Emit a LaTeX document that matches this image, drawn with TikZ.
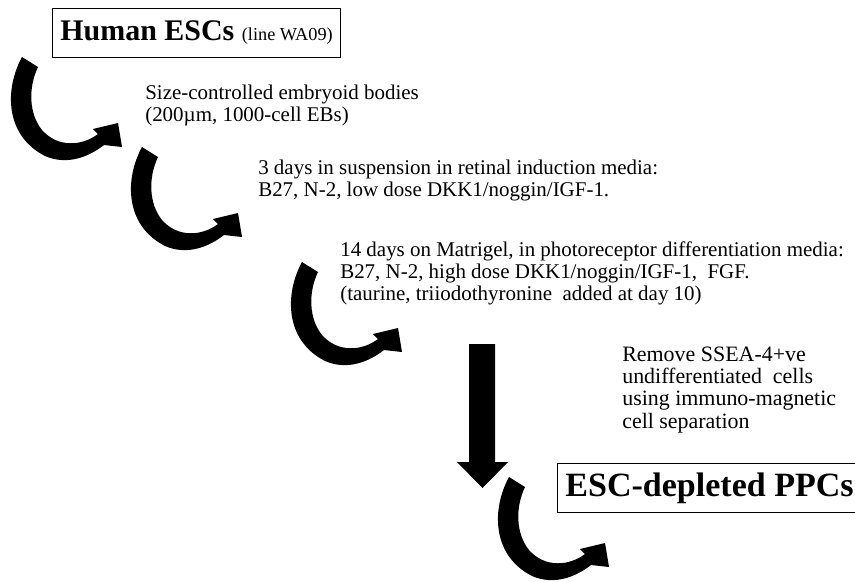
\documentclass[tikz,border=0pt]{standalone}
\usepackage{fontspec}
\setmainfont{Liberation Serif}
\usetikzlibrary{positioning}

\begin{document}
\begin{tikzpicture}[
  x=0.025cm, y=-0.025cm,
  txt/.style={anchor=base west, align=left, inner sep=0pt,
              font=\fontsize{14.9}{15.3}\selectfont},
  stagebox/.style={draw, line width=0.6pt, anchor=north west,
                   inner xsep=0.2cm, minimum height=1.225cm},
  bendarrow/.pic={
    \fill (22,57) .. controls (5,88) and (4,135) .. (45,156)
      .. controls (68,166) and (90,156) .. (104,145) -- (122,147) -- (118,123)
      -- (93,129) -- (98,134) .. controls (82,146) and (58,148) .. (42,130)
      .. controls (29,114) and (28,88) .. (38,67) -- cycle;
  }
]
\useasboundingbox (0,0) rectangle (855,581);

% stages (anchored at the baseline of the last line)
\node[stagebox] (hesc) at (52,8)
  {\fontsize{21.3}{24}\selectfont\bfseries Human ESCs
   \fontsize{13}{15}\selectfont\mdseries (line WA09)};
\node[txt] (ebs) at (145,121)
  {Size-controlled embryoid bodies\\(200µm, 1000-cell EBs)};
\node[txt] (induct) at (258,196)
  {3 days in suspension in retinal induction media:\\B27, N-2, low dose DKK1/noggin/IGF-1.};
\node[txt] (matri) at (340,300)
  {14 days on Matrigel, in photoreceptor differentiation media:\\B27, N-2, high dose DKK1/noggin/IGF-1,\ \ FGF.\\(taurine, triiodothyronine\ \ added at day 10)};
\node[txt, font=\fontsize{15.6}{15.8}\selectfont] (sort) at (622,428)
  {Remove SSEA-4+ve\\undifferentiated\ \ cells\\using immuno-magnetic\\cell separation};
\node[stagebox] (ppc) at (557,463)
  {\fontsize{24.2}{28}\selectfont\bfseries ESC-depleted PPCs};

% bent arrows between stages
\coordinate (b1) at (0,0);
\coordinate (b2) at (120,90);
\coordinate (b3) at (280,205);
\coordinate (b4) at (487,420);
\foreach \b in {b1,b2,b3,b4}
  \pic at (\b) {bendarrow};

% straight arrow
\fill (469,344) -- (495,344) -- (495,462) -- (508,462) -- (482.5,488)
  -- (457,462) -- (469,462) -- cycle;
\end{tikzpicture}
\end{document}
